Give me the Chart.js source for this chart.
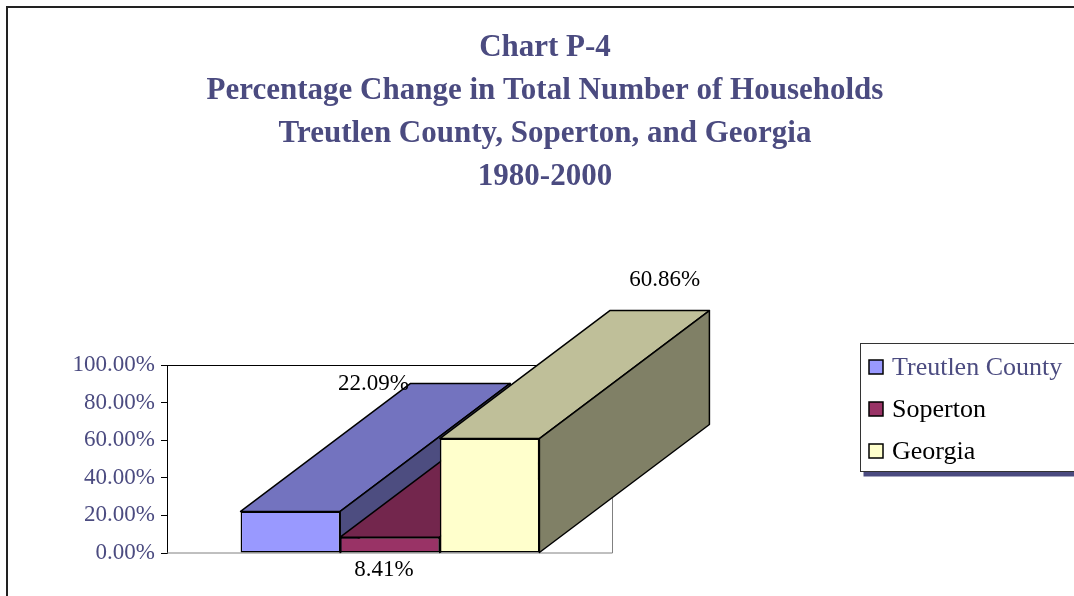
<!DOCTYPE html>
<html>
<head>
<meta charset="utf-8">
<script src="https://cdn.jsdelivr.net/npm/chart.js@4.4.0/dist/chart.umd.min.js"></script>
<style>
  html, body { margin: 0; padding: 0; background: #fff; }
  #wrap { width: 1074px; height: 596px; }
</style>
</head>
<body>
<div id="wrap"><canvas id="chartP4" width="1074" height="596"></canvas></div>
<script>
// Chart P-4 data (percent change 1980-2000)
const categories = ['1980-2000'];
const seriesNames = ['Treutlen County', 'Soperton', 'Georgia'];
const treutlenValues = [22.09];
const sopertonValues = [8.41];
const georgiaValues = [60.86];
const yTicks = [0, 20, 40, 60, 80, 100];
const titleLines = [
    'Chart P-4',
    'Percentage Change in Total Number of Households',
    'Treutlen County, Soperton, and Georgia',
    '1980-2000'
];

const SERIF = "'Liberation Serif', 'Times New Roman', serif";
const NAVY = '#4b4b80';

// Excel-style 3D shading: front, top (75%), side (50%)
const frontColors = ['#9999ff', '#993366', '#ffffcc'];
const topColors = ['#7373bf', '#73264d', '#bfbf99'];
const sideColors = ['#4d4d80', '#4d1a33', '#808066'];
const DEPTH_X = 170;
const DEPTH_Y = -128;

// where Excel put each value label, relative to the bar's front top
const labelOffsets = [[83, -128], [-6, 33], [175, -159]];

function poly(ctx, pts, fill) {
    ctx.beginPath();
    ctx.moveTo(pts[0][0], pts[0][1]);
    pts.slice(1).forEach(p => ctx.lineTo(p[0], p[1]));
    ctx.closePath();
    ctx.fillStyle = fill;
    ctx.fill();
    ctx.stroke();
}

const frameAndDepth = {
    id: 'frameAndDepth',
    beforeDraw(chart) {
        const { ctx, width, height } = chart;
        ctx.save();
        ctx.strokeStyle = '#222';
        ctx.lineWidth = 2;
        ctx.beginPath();
        ctx.moveTo(7, height);
        ctx.lineTo(7, 7);
        ctx.lineTo(width, 7);
        ctx.stroke();
        ctx.restore();
    },
    beforeDatasetsDraw(chart) {
        const { ctx, chartArea: a } = chart;
        ctx.save();
        // back plot box
        ctx.lineWidth = 1;
        ctx.strokeStyle = '#000';
        ctx.beginPath();
        ctx.moveTo(a.left, a.top + 0.5);
        ctx.lineTo(a.right, a.top + 0.5);
        ctx.stroke();
        ctx.strokeStyle = '#808080';
        ctx.beginPath();
        ctx.moveTo(a.right - 0.5, a.top);
        ctx.lineTo(a.right - 0.5, a.bottom);
        ctx.lineTo(a.left, a.bottom);
        ctx.stroke();

        // top and side faces, left to right so later bars cover earlier ones
        ctx.strokeStyle = '#000';
        ctx.lineWidth = 1.5;
        ctx.lineJoin = 'round';
        chart.data.datasets.forEach((ds, i) => {
            const meta = chart.getDatasetMeta(i);
            meta.data.forEach(bar => {
                const { x, y, base, width } = bar.getProps(['x', 'y', 'base', 'width'], true);
                const L = x - width / 2, R = x + width / 2;
                poly(ctx, [[L, y], [R, y], [R + DEPTH_X, y + DEPTH_Y], [L + DEPTH_X, y + DEPTH_Y]], topColors[i]);
                poly(ctx, [[R, y], [R + DEPTH_X, y + DEPTH_Y], [R + DEPTH_X, base + DEPTH_Y], [R, base]], sideColors[i]);
            });
        });
        ctx.restore();
    },
    afterDatasetsDraw(chart) {
        const { ctx } = chart;
        ctx.save();
        ctx.font = '23px ' + SERIF;
        ctx.fillStyle = '#000';
        ctx.textAlign = 'center';
        ctx.textBaseline = 'middle';
        chart.data.datasets.forEach((ds, i) => {
            chart.getDatasetMeta(i).data.forEach((bar, j) => {
                const { x, y } = bar.getProps(['x', 'y'], true);
                ctx.fillText(ds.data[j].toFixed(2) + '%', x + labelOffsets[i][0], y + labelOffsets[i][1]);
            });
        });
        ctx.restore();
    },
    afterDraw(chart) {
        // legend box with Excel drop shadow
        const { ctx } = chart;
        const bx = 860.5, by = 343.5, bw = 230, bh = 128;
        ctx.save();
        ctx.fillStyle = NAVY;
        ctx.fillRect(bx + 3, by + bh, bw, 5);
        ctx.fillStyle = '#fff';
        ctx.fillRect(bx, by, bw, bh);
        ctx.strokeStyle = '#333';
        ctx.lineWidth = 1;
        ctx.strokeRect(bx, by, bw, bh);
        ctx.font = '26px ' + SERIF;
        ctx.textBaseline = 'middle';
        chart.data.datasets.forEach((ds, i) => {
            const cy = 367 + i * 42;
            ctx.fillStyle = frontColors[i];
            ctx.fillRect(869, cy - 7, 14, 14);
            ctx.strokeStyle = '#000';
            ctx.lineWidth = 1.5;
            ctx.strokeRect(869, cy - 7, 14, 14);
            ctx.fillStyle = i === 0 ? NAVY : '#000';
            ctx.fillText(ds.label, 892, cy + 1);
        });
        ctx.restore();
    }
};

new Chart(document.getElementById('chartP4'), {
    type: 'bar',
    data: {
        labels: categories,
        datasets: [
            { label: seriesNames[0], data: treutlenValues, backgroundColor: frontColors[0] },
            { label: seriesNames[1], data: sopertonValues, backgroundColor: frontColors[1] },
            { label: seriesNames[2], data: georgiaValues, backgroundColor: frontColors[2] }
        ]
    },
    options: {
        responsive: false,
        animation: false,
        layout: { padding: { left: 16, right: 0, top: 0, bottom: 43 } },
        datasets: {
            bar: {
                categoryPercentage: 0.67,
                barPercentage: 1,
                borderColor: '#000',
                borderWidth: 1.5,
                borderSkipped: false
            }
        },
        plugins: {
            legend: { display: false },
            tooltip: { enabled: false },
            title: {
                display: true,
                text: titleLines,
                color: NAVY,
                font: { family: SERIF, size: 31, weight: 'bold', lineHeight: '43px' },
                padding: { top: 26, bottom: 167 }
            }
        },
        scales: {
            x: { display: false },
            y: {
                position: 'left',
                min: 0,
                max: 100,
                afterBuildTicks: s => { s.ticks = yTicks.map(v => ({ value: v })); },
                afterFit: s => { s.width = 151; },
                ticks: {
                    color: NAVY,
                    font: { family: SERIF, size: 23 },
                    padding: 6,
                    callback: v => v.toFixed(2) + '%'
                },
                grid: { drawOnChartArea: false, tickLength: 6, color: '#000' },
                border: { color: '#000', width: 1 }
            },
            // empty right-hand axis: reserves the room the legend sits in
            spacer: {
                position: 'right',
                afterFit: s => { s.width = 461; },
                ticks: { display: false },
                grid: { display: false },
                border: { display: false }
            }
        }
    },
    plugins: [frameAndDepth]
});
</script>
</body>
</html>
